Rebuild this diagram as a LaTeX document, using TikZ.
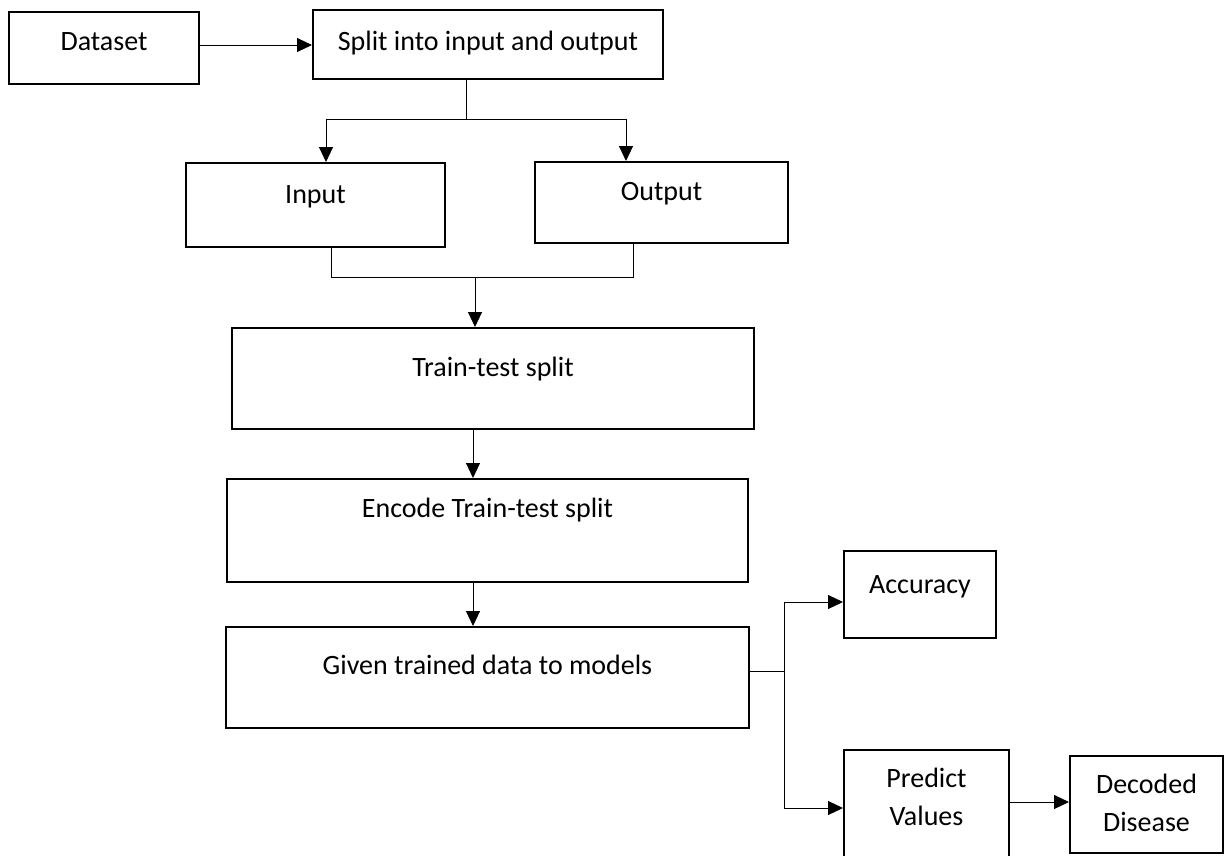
\documentclass[tikz,border=0pt]{standalone}
\usepackage{fontspec}
\setmainfont{Carlito}
\usetikzlibrary{positioning}
\usetikzlibrary{arrows.meta}
\tikzset{block/.style={ % Sets the properties for each box
draw,
line width=2pt,
inner sep=0pt,
align=center,
text height=21pt, % Text sits in the upper part of the box
font=\fontsize{28}{38}\selectfont},
twoline/.style={ % Boxes with two lines of text
block,
text height=59pt},
link/.style={ % Sets the properties for each connector
draw,
line width=1pt},
>={Triangle[length=15pt,width=14pt]}} % Filled arrow heads

\begin{document}
\begin{tikzpicture}[x=1pt,y=-1pt,on grid]
  \useasboundingbox (0,0) rectangle (1224,855);
  \fill[white] (0,0) rectangle (1224,855);
  \clip (0,0) rectangle (1224,855);
  \node[block,minimum width=190pt,minimum height=72pt,text depth=17pt]  (dataset) at (104,48) {Dataset};
  \node[block,minimum width=350pt,minimum height=69pt,text depth=10pt]  (split)    [above right=3.5pt and 384pt of dataset] {Split into input and output};
  \node[block,minimum width=259pt,minimum height=84pt,text depth=25pt]  (input)    [below left=160.5pt and 172.5pt of split] {Input};
  \node[block,minimum width=253pt,minimum height=81pt,text depth=26pt]  (output)   [below right=158pt and 173.5pt of split] {Output};
  \node[block,minimum width=522pt,minimum height=101pt,text depth=26pt] (train)    [below right=334pt and 5pt of split] {Train-test split};
  \node[block,minimum width=521pt,minimum height=103pt,text depth=48pt] (encode)   [below left=152pt and 5.5pt of train] {Encode Train-test split};
  \node[block,minimum width=523pt,minimum height=101pt,text depth=28pt] (given)    [below=147pt of encode] {Given trained data to models};
  \node[block,minimum width=152pt,minimum height=87pt,text depth=24pt]  (accuracy) [above right=83pt and 432.5pt of given] {Accuracy};
  \node[twoline,minimum width=165pt,minimum height=130pt,text depth=39pt] (predict) [below right=137.5pt and 439pt of given] {Predict\\Values};
  \node[twoline,minimum width=153pt,minimum height=97pt,text depth=6pt]   (decoded) [above right=10.5pt and 220pt of predict] {Decoded\\Disease};
  \coordinate (fork1) at (466,119);
  \coordinate (join1) at (475,277);
  \coordinate (fork2) at (784,671);
  \draw[link,->] ([yshift=3pt]dataset.east) -- ([yshift=3pt]dataset.east -| split.west);
  \draw[link]    (fork1 |- split.south) -- (fork1);
  \draw[link,->] (fork1) -| ([xshift=10.5pt]input.north);
  \draw[link,->] (fork1) -| ([xshift=-35.5pt]output.north);
  \draw[link]    ([xshift=15.5pt]input.south) |- (join1);
  \draw[link]    ([xshift=-28.5pt]output.south) |- (join1);
  \draw[link,->] (join1) -- (join1 |- train.north);
  \draw[link,->] ([xshift=-20pt]train.south) -- ([xshift=-14.5pt]encode.north);
  \draw[link,->] ([xshift=-14.5pt]encode.south) -- ([xshift=-14.5pt]given.north);
  \draw[link]    ([yshift=6.5pt]given.east) -- (fork2);
  \draw[link,->] (fork2) |- ([yshift=-7.5pt]accuracy.west);
  \draw[link,->] (fork2) |- ([yshift=7pt]predict.west);
  \draw[link,->] ([yshift=13pt]predict.east) -- ([yshift=13pt]predict.east -| decoded.west);
\end{tikzpicture}
\end{document}
